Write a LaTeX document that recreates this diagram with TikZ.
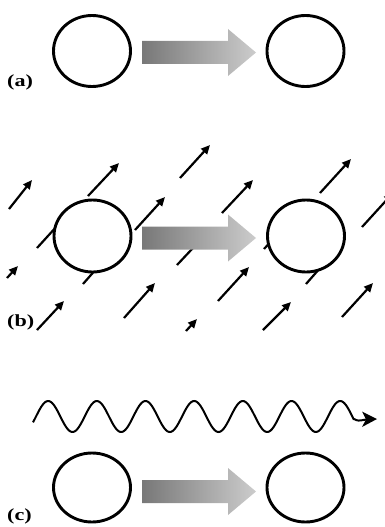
\documentclass[tikz,border=0pt]{standalone}
\usepackage{fontspec}
\setmainfont{Liberation Serif}
\usetikzlibrary{arrows.meta}
\definecolor{gdark}{gray}{0.47}
\definecolor{glight}{gray}{0.80}
\tikzset{
  circ/.style={line width=2.9pt, draw=black, fill=white},
  field/.style={line width=2.2pt, draw=black, -{Triangle[length=9pt,width=8pt]}},
  lab/.style={anchor=base west, inner sep=0pt, font=\fontsize{17}{17}\selectfont\bfseries},
  wave/.style={line width=2pt, draw=black}
}
\newcommand{\grayarrow}[1]{%
  \shade[left color=gdark, right color=glight]
    (142,#1-11.5) -- (228,#1-11.5) -- (228,#1-23.5) -- (256,#1)
    -- (228,#1+23.5) -- (228,#1+11.5) -- (142,#1+11.5) -- cycle;}
\begin{document}
\begin{tikzpicture}[x=1pt,y=-1pt]
\useasboundingbox (0,0) rectangle (385,527);
\clip (0,0) rectangle (385,527);
% ---------- (a)
\draw[circ] (92,51) ellipse [x radius=38.5, y radius=35.5];
\draw[circ] (305.5,51) ellipse [x radius=38.5, y radius=35.5];
\grayarrow{52.5}
\node[lab] (la) at (7,86) {\scalebox{1.3}[1]{(a)}};
% ---------- (b) field arrows
\draw[field] (9,209) -- (32,180);
\draw[field] (88,196) -- (119,163);
\draw[field] (180,178) -- (210,145);
\draw[field] (135,230) -- (165,197);
\draw[field] (37,248) -- (68,214);
\draw[field] (222,213) -- (253,180);
\draw[field] (320,193) -- (351,159);
\draw[field] (362,227) -- (393,193);
\draw[field] (7,278) -- (18,266);
\draw[field] (83,284) -- (112,251);
\draw[field] (37,330) -- (64,301);
\draw[field] (124,318) -- (155,283);
\draw[field] (177,265) -- (208,232);
\draw[field] (186,331) -- (197,319);
\draw[field] (218,301) -- (249,267);
\draw[field] (306,284) -- (335,251);
\draw[field] (342,317) -- (373,283);
\draw[field] (263,330) -- (291,302);
\draw[field] (264,249) -- (295,215);
% circles and arrow (b)
\draw[circ] (92.5,236) ellipse [x radius=38.5, y radius=36];
\draw[circ] (306,236) ellipse [x radius=38.5, y radius=36];
\grayarrow{238}
\node[lab] (lb) at (7,326) {\scalebox{1.3}[1]{(b)}};
% ---------- (c)
\draw[wave] plot[domain=33:354, samples=240, smooth]
   (\x, {416.5 - 15.5*sin(7.3968*(\x-36))});
\coordinate (wend) at (354,419);
\coordinate (wback) at (366,419.5);
\coordinate (wtip) at (377,419);
\draw[wave] (wend) .. controls (358,421) .. (wback);
\fill (wtip) -- (362,411.5) -- (366,419.5) -- (362,427) -- cycle;
\draw[circ] (92,487.5) ellipse [x radius=38.5, y radius=34.5];
\draw[circ] (305.5,487.5) ellipse [x radius=38.5, y radius=34.5];
\grayarrow{491.5}
\node[lab] (lc) at (7,520) {\scalebox{1.3}[1]{(c)}};
\end{tikzpicture}
\end{document}
